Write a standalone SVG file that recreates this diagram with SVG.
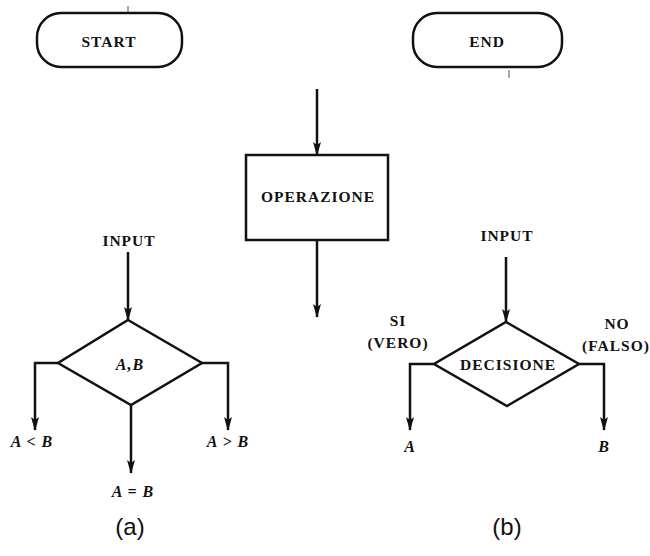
<svg xmlns="http://www.w3.org/2000/svg" width="650" height="556" viewBox="0 0 650 556">
<style>
.s{fill:none;stroke:#111;stroke-width:2.5;stroke-linejoin:miter}
.t{font-family:"Liberation Serif",serif;font-weight:bold;font-size:15.5px;fill:#111;text-anchor:middle;letter-spacing:1px}
.i{font-family:"Liberation Serif",serif;font-weight:bold;font-style:italic;font-size:16px;fill:#111;text-anchor:middle;letter-spacing:1px}
.c{font-family:"Liberation Sans",sans-serif;font-size:24px;fill:#111;text-anchor:middle}
.tick{stroke:#555;stroke-width:1}
</style>
<defs>
<marker id="ah" markerWidth="14" markerHeight="8" refX="13" refY="4" orient="auto" markerUnits="userSpaceOnUse" viewBox="0 0 14 8">
<path d="M0,0 L14,4 L0,8 L3,4 Z" fill="#111"/>
</marker>
</defs>
<rect width="650" height="556" fill="#fff"/>
<g id="start">
<rect class="s" x="37" y="13" width="145" height="54" rx="24" ry="24"/>
<text class="t" x="109" y="47">START</text>
</g>
<g id="end">
<rect class="s" x="413" y="13" width="149" height="54" rx="24" ry="24"/>
<text class="t" x="487" y="47">END</text>
</g>
<line class="tick" x1="128" y1="6" x2="128" y2="12"/>
<line class="tick" x1="509" y1="70" x2="509" y2="78"/>
<g id="operazione">
<rect class="s" x="246" y="155" width="142" height="85"/>
<text class="t" x="318" y="202">OPERAZIONE</text>
</g>
<g id="decision-a">
<polygon class="s" points="128,320 202,363 131,405 58,363"/>
<text class="i" x="130" y="370">A,B</text>
</g>
<g id="decision-b">
<polygon class="s" points="506,322 579,364 507,406 434,364"/>
<text class="t" x="508" y="370">DECISIONE</text>
</g>
<g id="labels">
<text class="t" x="129" y="246">INPUT</text>
<text class="i" x="32" y="447" xml:space="preserve">A &lt; B</text>
<text class="i" x="228" y="447">A &gt; B</text>
<text class="i" x="133" y="497">A = B</text>
<text class="t" x="507" y="241">INPUT</text>
<text class="t" x="398" y="326">SI</text>
<text class="t" x="398" y="348">(VERO)</text>
<text class="t" x="617" y="329">NO</text>
<text class="t" x="616" y="351">(FALSO)</text>
<text class="i" x="410" y="452">A</text>
<text class="i" x="604" y="452">B</text>
<text class="c" x="130" y="535">(a)</text>
<text class="c" x="507" y="535">(b)</text>
</g>
<g id="connectors">
<line class="s" x1="317" y1="89" x2="317" y2="155" marker-end="url(#ah)"/>
<line class="s" x1="317" y1="240" x2="317" y2="317" marker-end="url(#ah)"/>
<line class="s" x1="128" y1="252" x2="128" y2="320" marker-end="url(#ah)"/>
<polyline class="s" points="58,363 35,363 35,430" marker-end="url(#ah)"/>
<polyline class="s" points="202,363 228,363 228,430" marker-end="url(#ah)"/>
<line class="s" x1="131" y1="405" x2="131" y2="473" marker-end="url(#ah)"/>
<line class="s" x1="506" y1="257" x2="506" y2="322" marker-end="url(#ah)"/>
<polyline class="s" points="434,364 410,364 410,430" marker-end="url(#ah)"/>
<polyline class="s" points="579,364 604,364 604,430" marker-end="url(#ah)"/>
</g>
</svg>
